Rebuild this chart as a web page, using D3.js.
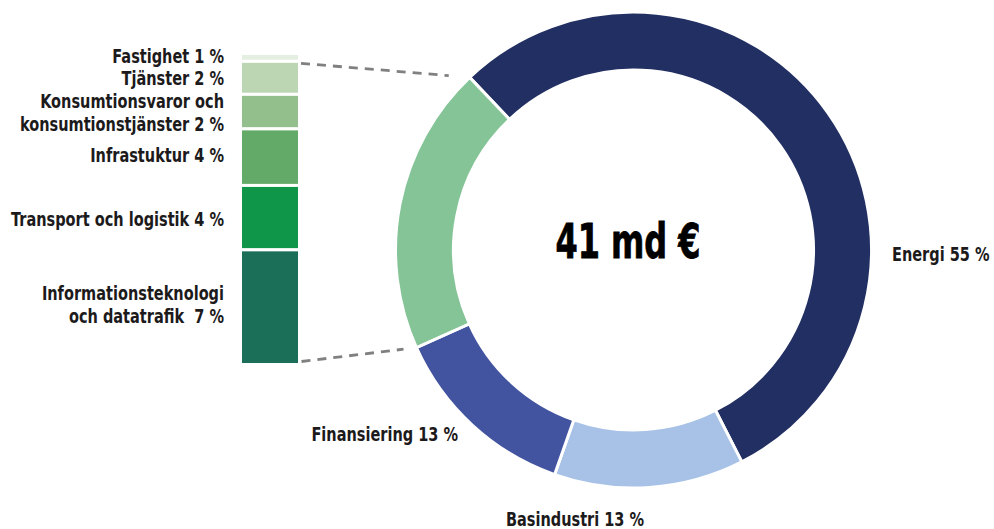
<!DOCTYPE html>
<html>
<head>
<meta charset="utf-8">
<script src="https://cdn.jsdelivr.net/npm/d3@7"></script>
<style>
  body { margin: 0; background: #fff; }
  svg text { font-family: "DejaVu Sans", sans-serif; font-stretch: condensed; font-weight: bold; fill: #1c1a1b; }
</style>
</head>
<body>
<svg id="chart" width="994" height="529"></svg>
<script>
// main donut
const sectors = ["Energi", "Basindustri", "Finansiering"];
const sectorShares = [55, 13, 13];
const sectorColors = ["#222f62", "#a7c2e6", "#4253a0"];

// breakdown of the remaining share (stacked bar, top to bottom)
const otherNames = ["Fastighet 1 %", "Tjänster 2 %", "Konsumtionsvaror och\nkonsumtionstjänster 2 %",
                    "Infrastuktur 4 %", "Transport och logistik 4 %", "Informationsteknologi\noch datatrafik  7 %"];
const otherShares = [0.5, 2.1, 2.2, 3.6, 4.1, 7.3];
const otherColors = ["#e4efe1", "#bcd6b4", "#93bf8c", "#63aa68", "#109648", "#1b6f58"];
const otherDonutColor = "#85c497";

const totalLabel = "41 md €";

const svg = d3.select("#chart");

const cx = 633.5, cy = 250, rOuter = 238, rInner = 180;
const startA = -43.5 * Math.PI / 180;
const squeeze = 0.85; // fake a condensed face

const otherSum = d3.sum(otherShares);
const donutData = sectors.map((s, i) => ({ name: s, value: sectorShares[i], color: sectorColors[i] }))
    .concat([{ name: "Övrigt", value: otherSum, color: otherDonutColor }]);

const pie = d3.pie()
    .sort(null)
    .value(d => d.value)
    .startAngle(startA)
    .endAngle(startA + 2 * Math.PI);

const arcs = pie(donutData);
const arc = d3.arc().innerRadius(rInner).outerRadius(rOuter);

const g = svg.append("g").attr("transform", `translate(${cx},${cy})`);

g.selectAll("path")
    .data(arcs)
    .enter().append("path")
    .attr("d", arc)
    .style("fill", d => d.data.color)
    .style("stroke", "#fff")
    .style("stroke-width", 3);

g.append("g")
    .attr("transform", "translate(-5.5,8.3) scale(0.74,1)")
  .append("text")
    .attr("text-anchor", "middle")
    .style("font-size", "48px")
    .style("fill", "#000")
    .style("stroke", "#000")
    .style("stroke-width", 0.8)
    .text(totalLabel);

// helper: label group positioned at x,y and squeezed horizontally
function label(parent, x, yy, anchor, size) {
  return parent.append("g")
      .attr("transform", `translate(${x},${yy}) scale(${squeeze},1)`)
    .append("text")
      .attr("text-anchor", anchor)
      .style("font-size", size + "px");
}

// sector labels
const labelPos = [[892, 261, "start"], [575, 526, "middle"], [458, 441, "end"]];
const sl = svg.append("g");
arcs.slice(0, 3).forEach((d, i) => {
  label(sl, labelPos[i][0], labelPos[i][1], labelPos[i][2], 19)
    .text(`${d.data.name} ${d.data.value} %`);
});

// stacked bar
const barX = 240.5, barW = 59;
const y = d3.scaleLinear().domain([0, otherSum]).range([53.5, 364.5]);
let cum = 0;
const stack = otherShares.map((v, i) => {
  const o = { name: otherNames[i], y0: cum, y1: cum + v, color: otherColors[i] };
  cum += v;
  return o;
});

const bar = svg.append("g");
bar.selectAll("rect")
    .data(stack)
    .enter().append("rect")
    .attr("x", barX)
    .attr("y", d => y(d.y0))
    .attr("width", barW)
    .attr("height", d => y(d.y1) - y(d.y0))
    .style("fill", d => d.color)
    .style("stroke", "#fff")
    .style("stroke-width", 3);

// labels sit on segment middles, slightly nudged like the original
const labelNudge = [-1.5, 1, 1.4, -1.5, 2, -2.5];
stack.forEach((d, i) => {
  const lines = d.name.split("\n");
  const t = label(bar, 224, (y(d.y0) + y(d.y1)) / 2 + labelNudge[i], "end", 19);
  lines.forEach((ln, k) => {
    t.append("tspan")
      .attr("x", 0)
      .attr("dy", k === 0 ? `${0.35 - (lines.length - 1) * 0.61}em` : "1.22em")
      .style("white-space", "pre")
      .text(ln);
  });
});

// connector lines
const gArc = arcs[3];
function outerPt(a, r) { return [cx + r * Math.sin(a), cy - r * Math.cos(a)]; }
function shorten(p0, p1, dist) {
  const dx = p1[0] - p0[0], dy = p1[1] - p0[1], L = Math.hypot(dx, dy);
  return [p1[0] - dx / L * dist, p1[1] - dy / L * dist];
}
const topStart = [barX + barW + 1.5, y(stack[1].y0) + 2];
const topEnd = shorten(topStart, outerPt(gArc.endAngle, rOuter), 21);
const botStart = [barX + barW + 2, y(otherSum) - 3];
const botEnd = shorten(botStart, outerPt(gArc.startAngle, rOuter), 13);

svg.append("g").selectAll("line")
    .data([[topStart, topEnd], [botStart, botEnd]])
    .enter().append("line")
    .attr("x1", d => d[0][0]).attr("y1", d => d[0][1])
    .attr("x2", d => d[1][0]).attr("y2", d => d[1][1])
    .style("stroke", "#808080")
    .style("stroke-width", 2.8)
    .style("stroke-dasharray", "9,7");
</script>
</body>
</html>
